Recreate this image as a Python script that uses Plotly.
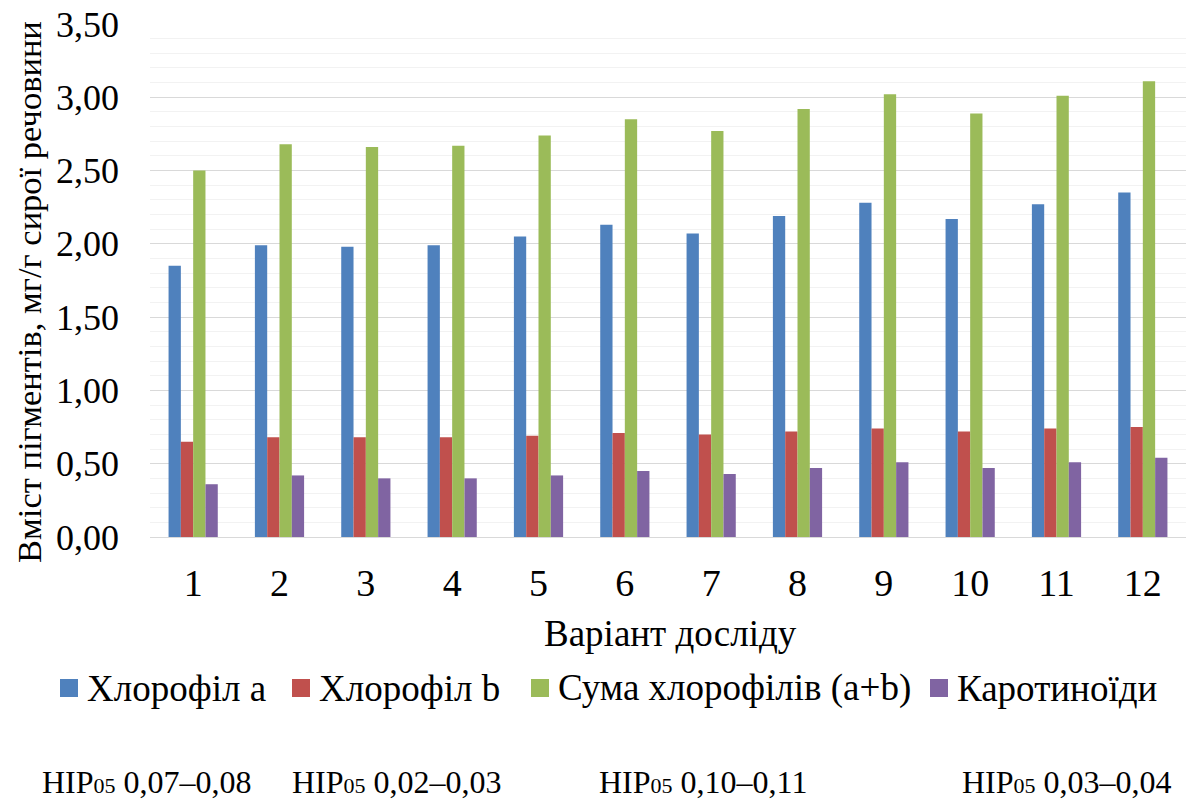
import plotly.graph_objects as go

# Варіанти досліду
variants = [str(i) for i in range(1, 13)]

# Вміст пігментів, мг/г сирої речовини
chl_a = [1.85, 1.99, 1.98, 1.99, 2.05, 2.13, 2.07, 2.19, 2.28, 2.17, 2.27, 2.35]
chl_b = [0.65, 0.68, 0.68, 0.68, 0.69, 0.71, 0.70, 0.72, 0.74, 0.72, 0.74, 0.75]
chl_sum = [2.50, 2.68, 2.66, 2.67, 2.74, 2.85, 2.77, 2.92, 3.02, 2.89, 3.01, 3.11]
carot = [0.36, 0.42, 0.40, 0.40, 0.42, 0.45, 0.43, 0.47, 0.51, 0.47, 0.51, 0.54]

series_names = ["Хлорофіл a", "Хлорофіл b", "Сума хлорофілів (a+b)", "Каротиноїди"]
series_values = [chl_a, chl_b, chl_sum, carot]
series_colors = ["#4F81BD", "#C0504D", "#9BBB59", "#8064A2"]

# НІР05 для кожного показника
lsd_labels = ["0,07–0,08", "0,02–0,03", "0,10–0,11", "0,03–0,04"]

FONT = "Liberation Serif"

W, H = 1190, 801
ML, MR, MT, MB = 150, 4, 24, 264
PW, PH = W - ML - MR, H - MT - MB


def fx(px):
    """Піксель по горизонталі -> частка ширини області побудови."""
    return (px - ML) / PW


def fy(py):
    """Піксель по вертикалі -> частка висоти області побудови."""
    return (H - MB - py) / PH


fig = go.Figure()
for name, vals, col in zip(series_names, series_values, series_colors):
    fig.add_trace(go.Bar(
        x=variants, y=vals, name=name, showlegend=False,
        marker=dict(color=col, line=dict(width=0)),
    ))

fig.update_layout(
    width=W, height=H,
    margin=dict(l=ML, r=MR, t=MT, b=MB),
    paper_bgcolor="white", plot_bgcolor="white",
    barmode="group", bargap=0.43, bargroupgap=0,
    separators=", ",
    font=dict(family=FONT, size=36, color="black"),
)

fig.update_xaxes(
    type="category", showgrid=False, showline=True, linecolor="#d9d9d9",
    linewidth=1, ticks="", tickfont=dict(size=38), ticklabelstandoff=12,
)
fig.update_yaxes(
    range=[0, 3.5], dtick=0.5, tickformat=".2f",
    showgrid=True, gridcolor="#d9d9d9", gridwidth=1,
    minor=dict(dtick=0.1, showgrid=True, gridcolor="#f2f2f2", gridwidth=1),
    zeroline=False, showline=False, ticks="",
    tickfont=dict(size=36), ticklabelstandoff=30,
)

# Підписи осей
fig.add_annotation(
    text="Варіант досліду", xref="paper", yref="paper",
    x=fx(670), y=fy(633), xanchor="center", yanchor="middle",
    showarrow=False, font=dict(size=37),
)
fig.add_annotation(
    text="Вміст пігментів, мг/г сирої речовини", xref="paper", yref="paper",
    x=fx(29), y=fy(292), xanchor="center", yanchor="middle", textangle=-90,
    showarrow=False, font=dict(size=34.5),
)

# Легенда: кольоровий квадрат і підпис для кожного ряду
legend_sq_x = [60, 292, 531, 930]
for px, name, col in zip(legend_sq_x, series_names, series_colors):
    fig.add_shape(
        type="rect", xref="paper", yref="paper",
        x0=fx(px), x1=fx(px + 18), y0=fy(697), y1=fy(679),
        fillcolor=col, line=dict(width=0),
    )
    fig.add_annotation(
        text=name, xref="paper", yref="paper",
        x=fx(px + 25), y=fy(688), xanchor="left", yanchor="middle",
        showarrow=False, font=dict(size=37),
    )

# НІР05 під легендою (індекс 05 меншим кеглем на тій самій лінії)
lsd_x = [40, 290, 597, 960]
for px, lab in zip(lsd_x, lsd_labels):
    fig.add_annotation(
        text=f"НІР<span style='font-size:22px'>05</span> {lab}",
        xref="paper", yref="paper",
        x=fx(px), y=fy(782), xanchor="left", yanchor="middle",
        showarrow=False, font=dict(size=32),
    )

fig.write_html("out.html")
